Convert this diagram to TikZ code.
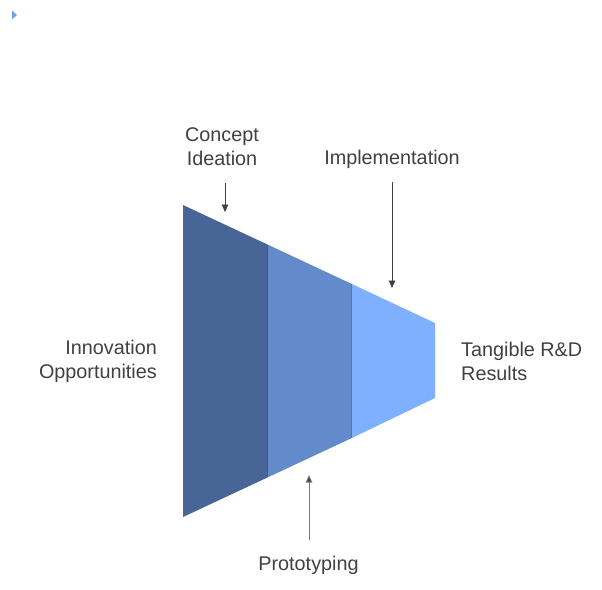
\documentclass[tikz,border=0pt]{standalone}
\usepackage{fontspec}
\setmainfont{Liberation Sans}
\usetikzlibrary{arrows.meta,positioning}
\definecolor{FunnelDark}{HTML}{476597}
\definecolor{FunnelEdge}{HTML}{3F5B8A}
\definecolor{FunnelMid}{HTML}{638ACB}
\definecolor{FunnelLight}{HTML}{7EB0FF}
\definecolor{LabelGray}{HTML}{404040}
\definecolor{PointerGray}{HTML}{7A7A7A}

\begin{document}
\begin{tikzpicture}[x=1pt,y=-1pt,>={Triangle[width=6.5pt,length=7.5pt]},
  lbl/.style={text=LabelGray,font=\fontsize{19.8}{24}\selectfont,inner sep=0pt},
  pointer/.style={->,line width=0.9pt,draw=LabelGray}]
  \useasboundingbox (0,0) rectangle (602,589);
  % marker in the corner
  \fill[FunnelLight!80!FunnelDark] (12,10.5) -- (17,15) -- (12,19.5) -- cycle;
  % funnel stages
  \fill[FunnelDark] (183,205) -- (267,244.3) -- (267,477.7) -- (183,517) -- cycle;
  \fill[FunnelMid] (267,244.3) -- (351,283.6) -- (351,438.4) -- (267,477.7) -- cycle;
  \fill[FunnelLight] (351,283.6) -- (435,323) -- (435,398) -- (351,438.4) -- cycle;
  \draw[FunnelEdge,line width=1.2pt] (267.6,244.6) -- (267.6,477.4);
  \draw[FunnelMid!85!black,line width=0.8pt] (351.4,283.8) -- (351.4,438.2);
  % labels
  \node[lbl,align=center] (concept) at (222,146.8) {Concept\\Ideation};
  \node[lbl] (implement) at (392,159.5) {Implementation};
  \node[lbl] (proto) at (308.5,565.5) {Prototyping};
  \node[lbl,align=right,anchor=east] (innov) at (157,361.8) {Innovation\\Opportunities};
  \node[lbl,align=left,anchor=west] (results) at (461,361.8) {Tangible R\&D\\Results};
  % pointers
  \coordinate (conceptTail) at (225,183);
  \coordinate (conceptTip) at (225,212);
  \coordinate (implementTail) at (392,182);
  \coordinate (implementTip) at (392,288);
  \coordinate (protoTail) at (309,540);
  \coordinate (protoTip) at (309,475);
  \draw[pointer] (conceptTail) -- (conceptTip);
  \draw[pointer] (implementTail) -- (implementTip);
  \draw[pointer,draw=PointerGray,-{Triangle[width=6.5pt,length=7.5pt,fill=LabelGray]}]
    (protoTail) -- (protoTip);
\end{tikzpicture}
\end{document}
